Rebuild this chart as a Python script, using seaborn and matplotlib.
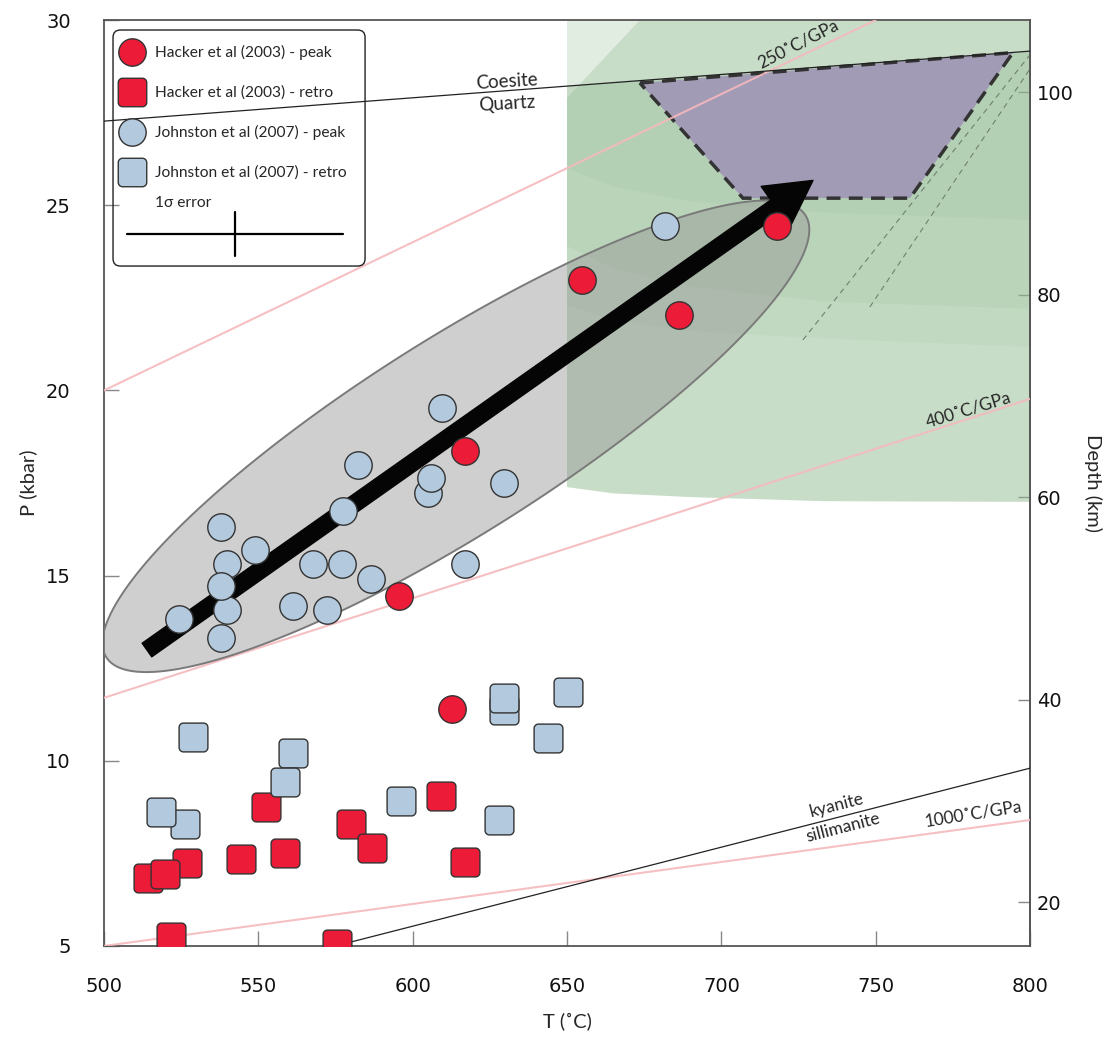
import numpy as np
import matplotlib
matplotlib.use("Agg")
import matplotlib.pyplot as plt
from matplotlib.path import Path
from matplotlib.patches import Polygon, FancyArrowPatch, FancyBboxPatch
from matplotlib.lines import Line2D
from matplotlib import font_manager
import seaborn as sns

# --- 1. Data: T (degC), P (kbar) ---
hacker_peak_T = [654.7, 686.2, 717.9, 616.9, 595.6, 612.7]
hacker_peak_P = [22.98, 22.04, 24.44, 18.36, 14.45, 11.41]

hacker_retro_T = [526.9, 514.2, 519.8, 544.3, 558.6, 552.5, 579.9, 586.8, 609.3, 617.1, 521.6, 575.5]
hacker_retro_P = [7.23, 6.84, 6.94, 7.34, 7.51, 8.74, 8.30, 7.65, 9.05, 7.26, 5.24, 5.05]

johnston_peak_T = [604.8, 605.8, 609.4, 582.2, 629.6, 577.4, 537.8, 548.9, 539.7, 539.7, 537.8,
                   567.8, 577.2, 586.6, 617.1, 524.2, 537.8, 561.1, 572.2, 681.8]
johnston_peak_P = [17.24, 17.63, 19.52, 17.99, 17.49, 16.74, 16.31, 15.70, 15.31, 14.07, 14.72,
                   15.32, 15.30, 14.92, 15.31, 13.82, 13.32, 14.18, 14.07, 24.45]

johnston_retro_T = [526.2, 518.3, 561.1, 558.6, 528.8, 596.1, 628.1, 629.7, 629.7, 650.2, 643.7]
johnston_retro_P = [8.30, 8.62, 10.22, 9.44, 10.63, 8.92, 8.39, 11.37, 11.69, 11.86, 10.62]

legend_labels = ["Hacker et al (2003) - peak", "Hacker et al (2003) - retro",
                 "Johnston et al (2007) - peak", "Johnston et al (2007) - retro"]
err_label = "1σ error"
err_T, err_P = 35, 0.6          # 1 sigma error bar
err_centre = (542.3, 24.22)

# reaction lines and geotherms (end points, T, P)
coesite_T, coesite_P = [500, 800], [27.27, 29.16]
kyanite_T, kyanite_P = [575, 800], [5.0, 9.8]
geo250_T, geo250_P = [500, 750], [20.0, 30.0]
geo400_T, geo400_P = [500, 800], [11.7, 19.77]
geo1000_T, geo1000_P = [500, 800], [5.0, 8.4]

# path of the arrow and the grey field
arrow_start, arrow_end = (513.9, 12.99), (729.7, 25.67)
ell_centre = (614.0, 18.76)
ell_a, ell_b, ell_angle = 134.0, 31.5, 32.3   # semi axes in degC units, angle deg
P_SCALE = 12.0                                # 1 kbar looks like 12 degC on the page

# UHP field (purple)
uhp_T = [673.6, 794.5, 761.1, 707.0]
uhp_P = [28.30, 29.12, 25.19, 25.19]

# green stability field, lower boundaries of the layers
green_T = [650, 665, 690, 733, 800]
green_bottoms = [[17.39, 17.22, 17.12, 17.01, 16.99],
                 [17.39, 17.22, 17.12, 17.01, 16.99],
                 [22.3, 21.9, 21.6, 21.4, 21.17],
                 [23.9, 23.3, 22.8, 22.4, 22.2],
                 [26.0, 25.5, 25.1, 24.8, 24.6]]

dash_lines = [([726.4, 800], [21.36, 29.06]),
              ([748.1, 800], [22.25, 28.68])]

# --- 2. Style ---
sns.set_theme(style="white")
available = {f.name for f in font_manager.fontManager.ttflist}
text_font = next(f for f in ["Lato", "Open Sans", "DejaVu Sans"] if f in available)
plt.rcParams["font.family"] = [text_font, "DejaVu Sans"]

red, blue, edge = "#ec1b37", "#b3c9dd", "#333333"
pink = "#f5b9bd"
green = "#8fb98f"


def rounded_square(r=0.3, n=8):
    verts = []
    for cx, cy, a0 in [(1 - r, 1 - r, 0), (-1 + r, 1 - r, 90),
                       (-1 + r, -1 + r, 180), (1 - r, -1 + r, 270)]:
        for a in np.linspace(a0, a0 + 90, n):
            verts.append((cx + r * np.cos(np.radians(a)), cy + r * np.sin(np.radians(a))))
    verts.append(verts[0])
    codes = [Path.MOVETO] + [Path.LINETO] * (len(verts) - 2) + [Path.CLOSEPOLY]
    return Path(verts, codes)


rsq = rounded_square()

fig = plt.figure(figsize=(11.08, 10.37), dpi=100)
ax = fig.add_axes([0.0939, 0.0878, 0.8357, 0.8929])
ax.set_xlim(500, 800)
ax.set_ylim(5, 30)

# --- 3. Background fields ---
coes = lambda t: np.interp(t, coesite_T, coesite_P)
for i, bottom in enumerate(green_bottoms):
    pts = list(zip(green_T, bottom))
    if i == 0:
        pts += [(800, 30), (650, 30)]
        alpha = 0.25
    elif i == 1:
        pts += [(800, 30), (673.6, 30), (650, 27.9)]
        alpha = 0.30
    else:
        pts += [(800, coes(800)), (650, coes(650))]
        alpha = 0.12
    ax.add_patch(Polygon(pts, closed=True, facecolor=green, edgecolor="none",
                         alpha=alpha, zorder=1))

ax.add_patch(Polygon(list(zip(uhp_T, uhp_P)), closed=True, facecolor="#a29bb6",
                     edgecolor="#333333", lw=2.5, ls=(0, (4, 2.4)), zorder=2))

for xs, ys in dash_lines:
    ax.plot(xs, ys, color="#6f7f6f", lw=0.8, ls=(0, (5, 4)), zorder=2.5)

for xs, ys in [(geo250_T, geo250_P), (geo400_T, geo400_P), (geo1000_T, geo1000_P)]:
    ax.plot(xs, ys, color=pink, lw=1.5, zorder=3, alpha=0.9)
ax.plot(coesite_T, coesite_P, color="#222222", lw=0.9, zorder=3)
ax.plot(kyanite_T, kyanite_P, color="#222222", lw=0.9, zorder=3)

# grey field (ellipse built in page-like units so it keeps its shape)
t = np.linspace(0, 2 * np.pi, 200)
ang = np.radians(ell_angle)
ex = ell_a * np.cos(t) * np.cos(ang) - ell_b * np.sin(t) * np.sin(ang)
ey = ell_a * np.cos(t) * np.sin(ang) + ell_b * np.sin(t) * np.cos(ang)
ell_xy = np.column_stack([ell_centre[0] + ex, ell_centre[1] + ey / P_SCALE])
ax.add_patch(Polygon(ell_xy, closed=True, facecolor="#959595", alpha=0.45,
                     edgecolor="none", zorder=4))
ax.add_patch(Polygon(ell_xy, closed=True, facecolor="none", edgecolor="#7a7a7a",
                     lw=1.4, zorder=4))

ax.add_patch(FancyArrowPatch(arrow_start, arrow_end,
                             arrowstyle="simple,head_length=33,head_width=36,tail_width=12",
                             color="#050505", shrinkA=0, shrinkB=0, zorder=5))

# --- 4. Samples ---
sns.scatterplot(x=hacker_retro_T, y=hacker_retro_P, marker=rsq, s=430, color=red,
                edgecolor=edge, linewidth=1, zorder=6, ax=ax, legend=False)
sns.scatterplot(x=johnston_retro_T, y=johnston_retro_P, marker=rsq, s=430, color=blue,
                edgecolor=edge, linewidth=1, zorder=6, ax=ax, legend=False)
sns.scatterplot(x=johnston_peak_T, y=johnston_peak_P, marker="o", s=390, color=blue,
                edgecolor=edge, linewidth=1, zorder=6, ax=ax, legend=False)
sns.scatterplot(x=hacker_peak_T, y=hacker_peak_P, marker="o", s=390, color=red,
                edgecolor=edge, linewidth=1, zorder=6, ax=ax, legend=False)

# --- 5. Labels on lines ---
ax.text(630.5, 28.33, "Coesite", fontsize=13.5, ha="center", va="center", rotation=3.5, zorder=7)
ax.text(630.5, 27.74, "Quartz", fontsize=13.5, ha="center", va="center", rotation=3.5, zorder=7)
ax.text(724.8, 29.35, "250˚C/GPa", fontsize=12.5, ha="center", va="center", rotation=27, zorder=7)
ax.text(780.0, 19.47, "400˚C/GPa", fontsize=12.5, ha="center", va="center", rotation=17, zorder=7)
ax.text(737.4, 8.81, "kyanite", fontsize=12.5, ha="center", va="center", rotation=14.5, zorder=7)
ax.text(739.4, 8.19, "sillimanite", fontsize=12.5, ha="center", va="center", rotation=14.5, zorder=7)
ax.text(781.5, 8.56, "1000˚C/GPa", fontsize=12.5, ha="center", va="center", rotation=9, zorder=7)

# --- 6. Legend ---
handles = [
    Line2D([], [], ls="none", marker="o", ms=19.7, mfc=red, mec=edge, mew=1),
    Line2D([], [], ls="none", marker=rsq, ms=20.5, mfc=red, mec=edge, mew=1),
    Line2D([], [], ls="none", marker="o", ms=19.7, mfc=blue, mec=edge, mew=1),
    Line2D([], [], ls="none", marker=rsq, ms=20.5, mfc=blue, mec=edge, mew=1),
]
leg = ax.legend(handles, legend_labels, loc="upper left",
                bbox_to_anchor=(0.020, 0.9728), borderaxespad=0, borderpad=0,
                fontsize=11.2, frameon=False, handlelength=1.2,
                handletextpad=0.9, labelspacing=1.63)
leg.set_zorder(15)
ax.add_patch(FancyBboxPatch((0.0097, 0.7343), 0.2722, 0.2549, transform=ax.transAxes,
                            boxstyle="round,pad=0,rounding_size=0.008",
                            facecolor="none", edgecolor="#222222", lw=1.0, zorder=15))
ax.text(0.0551, 0.8024, err_label, transform=ax.transAxes, fontsize=11.2,
        ha="left", va="center", zorder=16)
ax.plot([err_centre[0] - err_T, err_centre[0] + err_T], [err_centre[1]] * 2,
        color="black", lw=1.6, zorder=16)
ax.plot([err_centre[0]] * 2, [err_centre[1] - err_P, err_centre[1] + err_P],
        color="black", lw=1.6, zorder=16)

# --- 7. Axes ---
for s in ax.spines.values():
    s.set_color("#555555")
    s.set_linewidth(1.3)
ax.set_xticks([500, 550, 600, 650, 700, 750, 800])
ax.set_yticks([5, 10, 15, 20, 25, 30])
ax.tick_params(axis="both", direction="in", length=11, width=1, color="#888888",
               labelsize=14, labelcolor="#111111")
ax.tick_params(axis="x", pad=22, bottom=True)
ax.tick_params(axis="y", pad=24, left=True)
for lab in ax.get_xticklabels() + ax.get_yticklabels():
    lab.set_family("DejaVu Sans")
ax.set_xlabel("T (˚C)", fontsize=14.5, labelpad=12)
ax.set_ylabel("P (kbar)", fontsize=14.5, labelpad=6)

sec = ax.secondary_yaxis("right", functions=(lambda p: 3.658 * p - 2.63,
                                             lambda d: (d + 2.63) / 3.658))
sec.set_yticks([20, 40, 60, 80, 100])
sec.tick_params(direction="in", length=9, width=1, color="#888888", labelsize=14,
                labelcolor="#111111", pad=5)
for lab in sec.get_yticklabels():
    lab.set_family("DejaVu Sans")
sec.spines["right"].set_color("#555555")
sec.spines["right"].set_linewidth(1.3)
sec.set_ylabel("Depth (km)", fontsize=14.5, rotation=270, labelpad=20)

fig.savefig("out.png", dpi=100)
